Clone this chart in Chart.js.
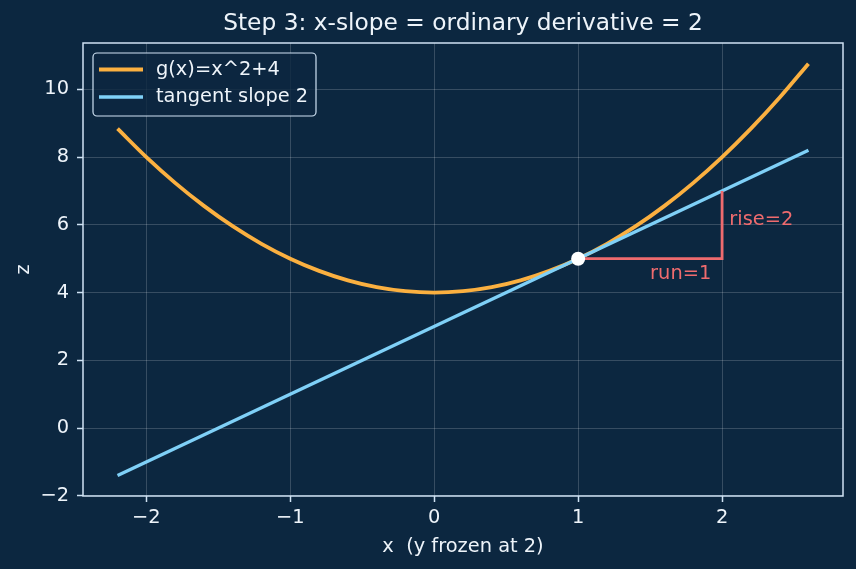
<!DOCTYPE html>
<html lang="en">
<head>
<meta charset="UTF-8">
<title>Step 3: x-slope = ordinary derivative = 2</title>
<script src="https://cdn.jsdelivr.net/npm/chart.js"></script>
<style>
    html, body { margin: 0; padding: 0; background: #0c2740; }
</style>
</head>
<body>
<canvas id="pendent" width="856" height="569"></canvas>

<script>
// corba g(x)=x^2+4, valors llegits del gràfic
const xVals = [-2.2, -2.0, -1.8, -1.6, -1.4, -1.2, -1.0, -0.8, -0.6, -0.4, -0.2, 0.0,
               0.2, 0.4, 0.6, 0.8, 1.0, 1.2, 1.4, 1.6, 1.8, 2.0, 2.2, 2.4, 2.6];
const gVals = [8.84, 8.00, 7.24, 6.56, 5.96, 5.44, 5.00, 4.64, 4.36, 4.16, 4.04, 4.00,
               4.04, 4.16, 4.36, 4.64, 5.00, 5.44, 5.96, 6.56, 7.24, 8.00, 8.84, 9.76, 10.76];

// recta tangent (pendent 2)
const tangentX = [-2.2, 2.6];
const tangentZ = [-1.4, 8.2];

// triangle run / rise
const stepX = [1, 2, 2];
const stepZ = [5, 5, 7];

// punt de tangència
const pointX = [1];
const pointZ = [5];

// etiquetes del triangle
const noteText = ['run=1', 'rise=2'];
const noteX = [1.5, 2.05];
const noteZ = [4.4, 6.0];

const xTicks = [-2, -1, 0, 1, 2];
const yTicks = [-2, 0, 2, 4, 6, 8, 10];

const legendLabels = ['g(x)=x^2+4', 'tangent slope 2'];

const BG = '#0c2740';
const ORANGE = '#fbb040';
const BLUE = '#7fd0f7';
const RED = '#ef6b6e';
const SPINE = '#cfe2f3';
const TXT = '#eef4fa';
const FONT = '"DejaVu Sans", sans-serif';
const FS = 19.4;

const toPts = (xs, ys) => xs.map((x, i) => ({ x: x, y: ys[i] }));
const minus = v => String(v).replace('-', '\u2212');

// fons, marc, títols, llegenda i anotacions
const decor = {
    id: 'decor',
    beforeDraw(chart) {
        const c = chart.ctx;
        c.save();
        c.fillStyle = BG;
        c.fillRect(0, 0, chart.width, chart.height);
        c.restore();
    },
    afterDatasetsDraw(chart) {
        const c = chart.ctx;
        const a = chart.chartArea;
        const sx = chart.scales.x, sy = chart.scales.y;
        c.save();

        // marc
        c.strokeStyle = SPINE;
        c.lineWidth = 1.5;
        c.strokeRect(a.left, a.top, a.right - a.left, a.bottom - a.top);

        // anotacions
        c.fillStyle = RED;
        c.font = FS + 'px ' + FONT;
        c.textAlign = 'left';
        c.textBaseline = 'alphabetic';
        noteText.forEach((t, i) => {
            c.fillText(t, sx.getPixelForValue(noteX[i]), sy.getPixelForValue(noteZ[i]));
        });

        // títol
        c.fillStyle = TXT;
        c.textAlign = 'center';
        c.font = '23.3px ' + FONT;
        c.fillText('Step 3: x-slope = ordinary derivative = 2', (a.left + a.right) / 2, 29.5);

        // títols dels eixos
        c.font = FS + 'px ' + FONT;
        c.fillText('x  (y frozen at 2)', (a.left + a.right) / 2, 552);
        c.save();
        c.translate(29, (a.top + a.bottom) / 2);
        c.rotate(-Math.PI / 2);
        c.fillText('z', 0, 0);
        c.restore();

        // llegenda
        const lx = 93, ly = 53, lw = 223, lh = 63;
        c.beginPath();
        c.roundRect(lx, ly, lw, lh, 4);
        c.fillStyle = 'rgba(12,39,64,0.8)';
        c.fill();
        c.strokeStyle = SPINE;
        c.lineWidth = 1.2;
        c.stroke();
        const cols = [ORANGE, BLUE];
        const rows = [69.5, 97];
        c.textAlign = 'left';
        c.textBaseline = 'middle';
        legendLabels.forEach((t, i) => {
            c.strokeStyle = cols[i];
            c.lineWidth = i === 0 ? 3.8 : 3.3;
            c.beginPath();
            c.moveTo(99, rows[i]);
            c.lineTo(143, rows[i]);
            c.stroke();
            c.fillStyle = TXT;
            c.fillText(t, 156, rows[i]);
        });
        c.restore();
    }
};

const ctx = document.getElementById('pendent').getContext('2d');
new Chart(ctx, {
    type: 'scatter',
    data: {
        datasets: [
            {
                label: 'point',
                data: toPts(pointX, pointZ),
                pointRadius: 7,
                pointBackgroundColor: '#ffffff',
                pointBorderWidth: 0,
                order: 0
            },
            {
                label: 'run-rise',
                data: toPts(stepX, stepZ),
                showLine: true,
                borderColor: RED,
                borderWidth: 2.8,
                pointRadius: 0,
                borderJoinStyle: 'miter',
                order: 1
            },
            {
                label: legendLabels[1],
                data: toPts(tangentX, tangentZ),
                showLine: true,
                borderColor: BLUE,
                borderWidth: 3.3,
                pointRadius: 0,
                order: 2
            },
            {
                label: legendLabels[0],
                data: toPts(xVals, gVals),
                showLine: true,
                borderColor: ORANGE,
                borderWidth: 3.8,
                pointRadius: 0,
                cubicInterpolationMode: 'monotone',
                order: 3
            }
        ]
    },
    options: {
        responsive: false,
        animation: false,
        events: [],
        layout: { padding: { left: 0, right: 13, top: 43, bottom: 0 } },
        font: { family: FONT },
        plugins: {
            legend: { display: false },
            title: { display: false },
            tooltip: { enabled: false }
        },
        scales: {
            x: {
                type: 'linear',
                min: -2.44,
                max: 2.84,
                afterBuildTicks: s => { s.ticks = xTicks.map(v => ({ value: v })); },
                afterFit: s => { s.height = 73; },
                border: { display: false },
                grid: {
                    color: 'rgba(255,255,255,0.18)',
                    lineWidth: 1,
                    tickColor: SPINE,
                    tickLength: 6,
                    tickWidth: 1.5
                },
                ticks: {
                    color: TXT,
                    font: { family: FONT, size: FS },
                    padding: 4,
                    maxRotation: 0,
                    autoSkip: false,
                    callback: v => minus(v)
                }
            },
            y: {
                type: 'linear',
                min: -2.008,
                max: 11.37,
                afterBuildTicks: s => { s.ticks = yTicks.map(v => ({ value: v })); },
                afterFit: s => { s.width = 83; },
                border: { display: false },
                grid: {
                    color: 'rgba(255,255,255,0.18)',
                    lineWidth: 1,
                    tickColor: SPINE,
                    tickLength: 6,
                    tickWidth: 1.5
                },
                ticks: {
                    color: TXT,
                    font: { family: FONT, size: FS },
                    padding: 8,
                    autoSkip: false,
                    callback: v => minus(v)
                }
            }
        }
    },
    plugins: [decor]
});
</script>
</body>
</html>
